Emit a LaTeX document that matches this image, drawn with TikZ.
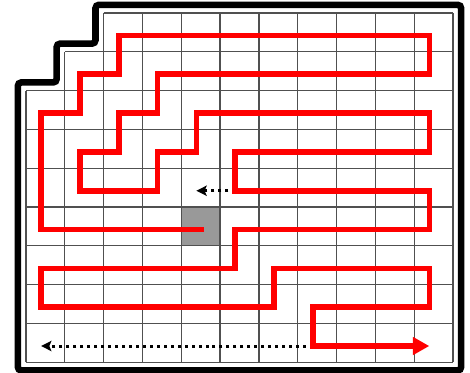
\documentclass[tikz,border=0pt]{standalone}
\usepackage{tikz}
\usetikzlibrary{arrows.meta}
\definecolor{pathred}{HTML}{FF0000}
\definecolor{cellgray}{HTML}{999999}
\definecolor{gridgray}{HTML}{505050}

\tikzset{
    gridline/.style={gridgray, line width=0.9pt},
    wall/.style={black, line width=4.8pt, rounded corners=2.5pt},
    route/.style={pathred, line width=4.1pt, -{Triangle[length=12pt,width=12.5pt]}},
    dotline/.style={black, line width=2.2pt, dash pattern=on 2.2pt off 2.9pt,
        -{Stealth[length=7.5pt,width=7.5pt,inset=1.5pt]}}
}

\begin{document}
\begin{tikzpicture}[scale=1.0]
    \useasboundingbox (-0.670,-0.257) rectangle (11.438,9.334);

    % Pole startowe
    \fill[cellgray] (4,3) rectangle (5,4);

    % Siatka
    \draw[gridline] (0,0) grid (11,7);
    \draw[gridline] (1,7) grid (11,8);
    \draw[gridline] (2,8) grid (11,9);

    % Obramowanie
    \draw[wall] (-0.21,-0.21) -- (11.21,-0.21) -- (11.21,9.21) -- (1.79,9.21)
        -- (1.79,8.21) -- (0.79,8.21) -- (0.79,7.21) -- (-0.21,7.21) -- cycle;

    \begin{scope}[shift={(0.39,0.42)}]
        % Punkty strzalek kropkowanych
        \coordinate (midstart) at (5,4);
        \coordinate (midend) at (4,4);
        \coordinate (lowstart) at (7,0);
        \coordinate (lowend) at (0,0);

        % Strzalki kropkowane
        \draw[dotline] (midstart) -- (midend);
        \draw[dotline] (lowstart) -- (lowend);

        % Trasa
        \draw[route] (4.2,3) -- (0,3) -- (0,6) -- (1,6) -- (1,7) -- (2,7) -- (2,8)
            -- (10,8) -- (10,7) -- (3,7) -- (3,6) -- (2,6) -- (2,5) -- (1,5) -- (1,4)
            -- (3,4) -- (3,5) -- (4,5) -- (4,6) -- (10,6) -- (10,5) -- (5,5) -- (5,4)
            -- (10,4) -- (10,3) -- (5,3) -- (5,2) -- (0,2) -- (0,1) -- (6,1) -- (6,2)
            -- (10,2) -- (10,1) -- (7,1) -- (7,0) -- (10,0);
    \end{scope}
\end{tikzpicture}
\end{document}
